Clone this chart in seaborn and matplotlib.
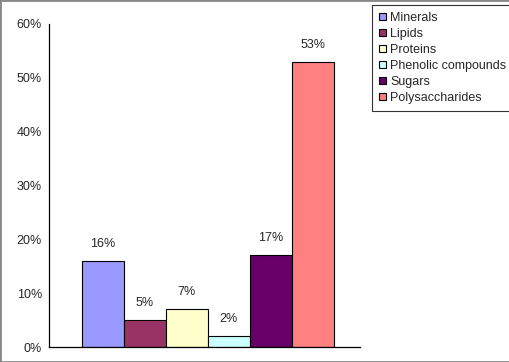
import matplotlib.pyplot as plt
import pandas as pd
import seaborn as sns

components = ["Minerals", "Lipids", "Proteins", "Phenolic compounds", "Sugars", "Polysaccharides"]
shares = [16, 5, 7, 2, 17, 53]
colours = ["#9999FF", "#993366", "#FFFFCC", "#CCFFFF", "#660066", "#FF8080"]
yticks = [0, 10, 20, 30, 40, 50, 60]

df = pd.DataFrame({"group": ["all"] * len(components), "component": components, "share": shares})

sns.set_style("white")
plt.rcParams["font.family"] = ["Liberation Sans", "DejaVu Sans"]

fig = plt.figure(figsize=(5.1, 3.62), dpi=100)
ax = fig.add_axes([49 / 510, 1 - 347 / 362, 311 / 510, 323 / 362])

sns.barplot(data=df, x="group", y="share", hue="component", palette=colours,
            width=0.81, edgecolor="black", linewidth=0.8, saturation=1, ax=ax, legend=True)

# value labels above each bar
for cont in ax.containers:
    ax.bar_label(cont, fmt="%d%%", padding=8, fontsize=9)

ax.set_xlim(-0.511, 0.489)
ax.set_ylim(0, 60)
ax.set_yticks(yticks)
ax.set_yticklabels([f"{t}%" for t in yticks], fontsize=9)
ax.set_xticks([])
ax.set_xlabel("")
ax.set_ylabel("")
ax.tick_params(axis="y", direction="out", length=3, width=0.8, color="black", pad=2)
for s in ["top", "right"]:
    ax.spines[s].set_visible(False)
for s in ["left", "bottom"]:
    ax.spines[s].set_color("black")
    ax.spines[s].set_linewidth(0.9)

leg = ax.legend(loc="upper left", bbox_to_anchor=(372 / 510, 1 - 5 / 362),
                bbox_transform=fig.transFigure, fontsize=9, frameon=True,
                fancybox=False, handlelength=0.6, handleheight=0.6,
                handletextpad=0.3, labelspacing=0.32, borderpad=0.55, borderaxespad=0)
leg.get_frame().set_edgecolor("black")
leg.get_frame().set_linewidth(0.8)

# grey border around the whole picture
fig.patches.append(plt.Rectangle((0, 0), 1, 1, transform=fig.transFigure,
                                 fill=False, edgecolor="#888888", linewidth=2))

fig.savefig("out.png", dpi=100)
